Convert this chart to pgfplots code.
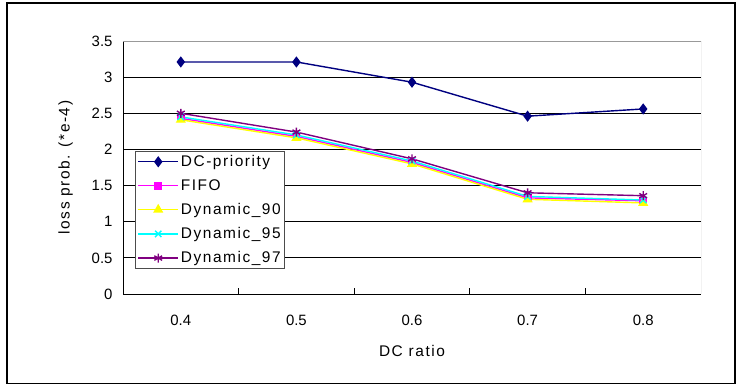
\documentclass[border=0pt]{standalone}
\usepackage{pgfplots}
\pgfplotsset{compat=1.18}
\usepackage{fontspec}
\setmainfont{Liberation Sans}
\newfontfamily\spaced[LetterSpace=10]{Liberation Sans}
\definecolor{cnavy}{RGB}{0,0,128}
\definecolor{cmag}{RGB}{255,0,255}
\definecolor{cyel}{RGB}{255,255,0}
\definecolor{ccyan}{RGB}{0,255,255}
\definecolor{cpurp}{RGB}{128,0,128}
\begin{document}
\begin{tikzpicture}[x=1bp,y=1bp]
\useasboundingbox (0,0) rectangle (737,385);
\draw[line width=1.2bp] (7,1.5) rectangle (735,382);
\begin{axis}[
  at={(123bp,91bp)}, anchor=south west,
  scale only axis, width=578bp, height=253bp,
  xmin=-0.5, xmax=4.5, ymin=0, ymax=3.5,
  axis x line*=bottom, axis y line*=left,
  axis line style={black, line width=1bp, -},
  xtick={0,1,2,3,4},
  xticklabels={0.4,0.5,0.6,0.7,0.8},
  major x tick style={draw=none},
  minor xtick={0.5,1.5,2.5,3.5},
  minor tick length=6bp,
  minor x tick style={black, line width=0.8bp},
  tick align=inside,
  ytick={0,0.5,...,3.5},
  major y tick style={draw=none},
  ymajorgrids, grid style={black, line width=0.8bp},
  /pgf/number format/assume math mode=true,
  ticklabel style={font=\fontsize{15}{17}\selectfont},
  xticklabel style={yshift=-18bp},
  yticklabel style={xshift=-7bp},
  xlabel={DC ratio}, ylabel={loss prob. (*e-4)},
  label style={font=\fontsize{15.5}{17}\spaced},
  xlabel style={yshift=-12bp},
  ylabel style={yshift=12bp},
  legend style={at={(0.021,0.565)}, anchor=north west, draw=black!70, line width=0.8bp,
    font=\fontsize{15.5}{17}\spaced, row sep=7.5bp, inner sep=2bp, fill=white},
  legend cell align=left,
  legend image code/.code={
    \draw[mark repeat=2,mark phase=2,#1] plot coordinates {(0bp,0bp) (20bp,0bp) (40bp,0bp)};},
  every axis plot/.append style={line width=1.4bp},
]
\draw[black!40, line width=1bp] (rel axis cs:0,1) -- (rel axis cs:1,1) -- (rel axis cs:1,0);
\addplot[color=cnavy, mark=diamond*, mark size=4.5bp, mark options={fill=cnavy}]
  coordinates {(0,3.21) (1,3.21) (2,2.93) (3,2.46) (4,2.56)};
\addlegendentry{DC-priority}
\addplot[color=cmag, mark=square*, mark size=3.2bp, mark options={fill=cmag}]
  coordinates {(0,2.43) (1,2.18) (2,1.82) (3,1.33) (4,1.29)};
\addlegendentry{FIFO}
\addplot[color=cyel, mark=triangle*, mark size=4.5bp, mark options={fill=cyel}]
  coordinates {(0,2.41) (1,2.16) (2,1.80) (3,1.31) (4,1.26)};
\addlegendentry{Dynamic\_90}
\addplot[color=ccyan, mark=x, mark size=4.5bp]
  coordinates {(0,2.45) (1,2.20) (2,1.84) (3,1.35) (4,1.30)};
\addlegendentry{Dynamic\_95}
\addplot[color=cpurp, mark=asterisk, mark size=4.5bp]
  coordinates {(0,2.50) (1,2.24) (2,1.87) (3,1.40) (4,1.36)};
\addlegendentry{Dynamic\_97}
\end{axis}
\end{tikzpicture}
\end{document}
